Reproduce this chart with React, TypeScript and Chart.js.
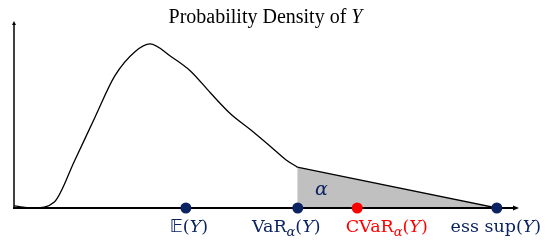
import React, { useEffect, useRef } from "react";
import { Chart, registerables } from "chart.js";

Chart.register(...registerables);

// Density curve of Y up to VaR (x in axis units 0..10, density 0..1)
const curveX = [0.0, 0.4, 0.8, 1.2, 1.6, 2.0, 2.4, 2.7, 3.1, 3.5, 3.9, 4.3, 4.7, 5.1, 5.4, 5.62];
const curveY = [0.011, 0.0, 0.032, 0.253, 0.484, 0.71, 0.84, 0.882, 0.817, 0.737, 0.618, 0.505, 0.419, 0.328, 0.258, 0.22];
// Linear tail from VaR to ess sup
const tailX = [5.62, 9.58];
const tailY = [0.22, 0.0];
// Marked points on the x axis
const markerNames = ["E", "VaR", "CVaR", "esssup"];
const markerX = [3.41, 5.63, 6.81, 9.58];
const titleText = "Probability Density of ";
const titleVar = "Y";
const areaLabel = "α";

const NAVY = "#0b2461";
const RED = "#ff0000";
const SERIF = '"DejaVu Serif", serif';

type Run = { t: string; f: string; dy?: number };

function runsFor(name: string): Run[] {
  const n = `17.5px ${SERIF}`;
  const it = `italic 17.5px ${SERIF}`;
  const sub = `italic 13px ${SERIF}`;
  const tail: Run[] = [
    { t: "(", f: n },
    { t: "Y", f: it },
    { t: ")", f: n },
  ];
  if (name === "E") return [{ t: "𝔼", f: `18px "DejaVu Sans", ${SERIF}` }, ...tail];
  if (name === "VaR") return [{ t: "VaR", f: n }, { t: "α", f: sub, dy: 4 }, ...tail];
  if (name === "CVaR") return [{ t: "CVaR", f: n }, { t: "α", f: sub, dy: 4 }, ...tail];
  return [{ t: "ess sup", f: n }, ...tail];
}

function drawRuns(ctx: CanvasRenderingContext2D, runs: Run[], left: number, baseline: number) {
  let x = left;
  for (const r of runs) {
    ctx.font = r.f;
    ctx.fillText(r.t, x, baseline + (r.dy || 0));
    x += ctx.measureText(r.t).width;
  }
}

function runsWidth(ctx: CanvasRenderingContext2D, runs: Run[]) {
  let w = 0;
  for (const r of runs) {
    ctx.font = r.f;
    w += ctx.measureText(r.t).width;
  }
  return w;
}

// label horizontal offsets (px) of label centre relative to marker
const labelShift = [3, -11.5, 29.5, -1];
const markerColors = [NAVY, NAVY, RED, NAVY];

const decorPlugin = {
  id: "decor",
  beforeDatasetsDraw(chart: any) {
    const { ctx, scales } = chart;
    const xs = scales.x, ys = scales.y;
    const x0 = xs.getPixelForValue(0);
    const y0 = ys.getPixelForValue(0);
    const yTop = ys.getPixelForValue(1);
    ctx.save();
    ctx.strokeStyle = "#000";
    ctx.fillStyle = "#000";
    ctx.lineWidth = 1.5;
    ctx.beginPath();
    ctx.moveTo(x0, y0);
    ctx.lineTo(x0, yTop + 2);
    ctx.stroke();
    ctx.beginPath();
    ctx.moveTo(x0, yTop - 1);
    ctx.lineTo(x0 - 2, yTop + 3);
    ctx.lineTo(x0 + 2, yTop + 3);
    ctx.closePath();
    ctx.fill();
    ctx.restore();
  },
  afterDatasetsDraw(chart: any) {
    const { ctx, scales } = chart;
    const xs = scales.x, ys = scales.y;
    const x0 = xs.getPixelForValue(0);
    const y0 = ys.getPixelForValue(0);
    const xEnd = xs.getPixelForValue(10);
    ctx.save();
    ctx.strokeStyle = "#000";
    ctx.fillStyle = "#000";
    ctx.lineWidth = 2;
    ctx.beginPath();
    ctx.moveTo(x0 - 1, y0);
    ctx.lineTo(xEnd - 3, y0);
    ctx.stroke();
    ctx.beginPath();
    ctx.moveTo(xEnd + 1, y0);
    ctx.lineTo(xEnd - 5, y0 - 2.5);
    ctx.lineTo(xEnd - 5, y0 + 2.5);
    ctx.closePath();
    ctx.fill();

    markerX.forEach((v, i) => {
      ctx.fillStyle = markerColors[i];
      ctx.beginPath();
      ctx.arc(xs.getPixelForValue(v), y0, 5.5, 0, Math.PI * 2);
      ctx.fill();
    });

    ctx.textBaseline = "alphabetic";
    markerNames.forEach((name, i) => {
      const runs = runsFor(name);
      const w = runsWidth(ctx, runs);
      const cx = xs.getPixelForValue(markerX[i]) + labelShift[i];
      ctx.fillStyle = markerColors[i];
      drawRuns(ctx, runs, cx - w / 2, y0 + 24);
    });

    ctx.fillStyle = NAVY;
    ctx.font = `italic 19px ${SERIF}`;
    ctx.textAlign = "center";
    ctx.fillText(areaLabel, xs.getPixelForValue(6.1), ys.getPixelForValue(0.07));
    ctx.textAlign = "left";

    ctx.fillStyle = "#000";
    const titleRuns: Run[] = [
      { t: titleText, f: '20px "Liberation Serif", serif' },
      { t: titleVar, f: 'italic 20px "Liberation Serif", serif' },
    ];
    const tw = runsWidth(ctx, titleRuns);
    drawRuns(ctx, titleRuns, 265.5 - tw / 2, 23);
    ctx.restore();
  },
};

export default function App() {
  const ref = useRef<HTMLCanvasElement>(null);
  useEffect(() => {
    document.body.style.margin = "0";
    const canvas = ref.current!;
    const chart = new Chart(canvas, {
      type: "scatter",
      data: {
        datasets: [
          {
            data: tailX.map((x, i) => ({ x, y: tailY[i] })),
            showLine: true,
            borderColor: "#000",
            borderWidth: 1.3,
            backgroundColor: "#c0c0c0",
            fill: "origin",
            pointRadius: 0,
            tension: 0,
          },
          {
            data: curveX.map((x, i) => ({ x, y: curveY[i] })),
            showLine: true,
            borderColor: "#000",
            borderWidth: 1.3,
            pointRadius: 0,
            fill: false,
            cubicInterpolationMode: "monotone",
          },
        ],
      },
      options: {
        responsive: false,
        animation: false,
        layout: { padding: { left: 14, right: 36, top: 22, bottom: 36 } },
        plugins: { legend: { display: false }, tooltip: { enabled: false }, title: { display: false } },
        scales: {
          x: { type: "linear", min: 0, max: 10, display: false },
          y: { type: "linear", min: 0, max: 1, display: false },
        },
      },
      plugins: [decorPlugin],
    } as any);
    return () => chart.destroy();
  }, []);
  return <canvas ref={ref} width={554} height={244} style={{ display: "block" }} />;
}
